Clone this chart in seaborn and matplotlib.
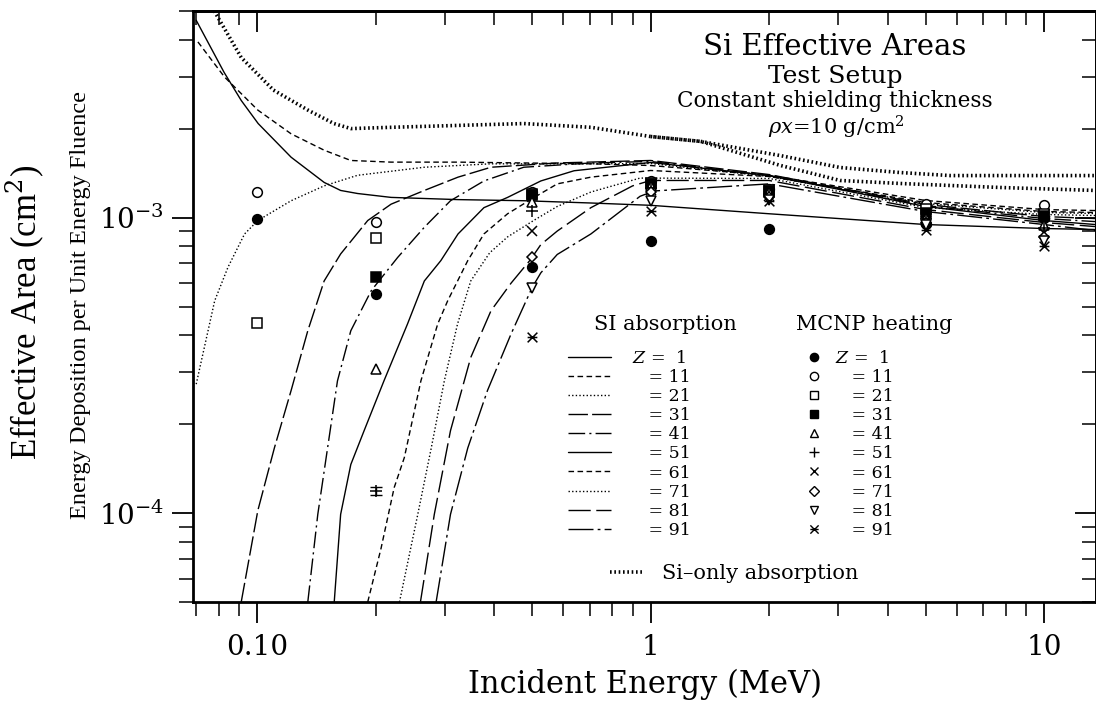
import numpy as np
import pandas as pd
import matplotlib
matplotlib.use("Agg")
import matplotlib.pyplot as plt
import seaborn as sns
from matplotlib.path import Path
from matplotlib.lines import Line2D
from matplotlib.ticker import LogLocator, NullFormatter

nan = np.nan

# ---------------- SI absorption curves ----------------
z1_E = [0.070, 0.0824, 0.0911, 0.1006, 0.122, 0.148, 0.163, 0.180, 0.219, 0.324, 0.476, 0.705, 1.0, 2.0, 5.0, 10.0, 13.5]
z1_A = [4.65e-3, 3.10e-3, 2.49e-3, 2.08e-3, 1.60e-3, 1.315e-3, 1.235e-3, 1.206e-3, 1.17e-3, 1.15e-3, 1.14e-3, 1.12e-3, 1.10e-3, 1.03e-3, 0.947e-3, 0.918e-3, 0.911e-3]

z11_E = [0.0707, 0.0826, 0.1004, 0.122, 0.148, 0.173, 0.219, 0.324, 0.705, 1.0, 2.0, 5.0, 10.0, 13.5]
z11_A = [3.93e-3, 2.99e-3, 2.31e-3, 1.92e-3, 1.69e-3, 1.56e-3, 1.54e-3, 1.54e-3, 1.52e-3, 1.50e-3, 1.39e-3, 1.142e-3, 1.064e-3, 1.056e-3]

z21_E = [0.070, 0.078, 0.0843, 0.0929, 0.1004, 0.122, 0.148, 0.180, 0.266, 0.393, 0.705, 1.0, 2.0, 5.0, 10.0, 13.5]
z21_A = [2.73e-4, 5.23e-4, 6.79e-4, 8.8e-4, 9.77e-4, 1.14e-3, 1.28e-3, 1.39e-3, 1.48e-3, 1.52e-3, 1.52e-3, 1.524e-3, 1.377e-3, 1.115e-3, 1.040e-3, 1.032e-3]

z31_E = [0.0911, 0.1004, 0.1106, 0.122, 0.1345, 0.148, 0.163, 0.191, 0.219, 0.266, 0.324, 0.393, 0.579, 1.0, 2.0, 5.0, 10.0, 13.5]
z31_A = [5.0e-5, 1.02e-4, 1.66e-4, 2.6e-4, 4.14e-4, 6.1e-4, 7.53e-4, 9.77e-4, 1.11e-3, 1.235e-3, 1.37e-3, 1.48e-3, 1.53e-3, 1.56e-3, 1.398e-3, 1.107e-3, 1.008e-3, 0.992e-3]

z41_E = [0.1345, 0.1426, 0.151, 0.160, 0.173, 0.195, 0.2276, 0.266, 0.31, 0.377, 0.476, 0.705, 1.0, 2.0, 5.0, 10.0, 13.5]
z41_A = [5.0e-5, 9.9e-5, 1.66e-4, 2.8e-4, 4.14e-4, 5.66e-4, 7.33e-4, 9.27e-4, 1.14e-3, 1.33e-3, 1.48e-3, 1.53e-3, 1.548e-3, 1.387e-3, 1.098e-3, 0.992e-3, 0.969e-3]

z51_E = [0.157, 0.163, 0.173, 0.187, 0.210, 0.241, 0.266, 0.293, 0.324, 0.377, 0.433, 0.526, 0.639, 1.0, 2.0, 5.0, 10.0, 13.5]
z51_A = [5.0e-5, 9.9e-5, 1.46e-4, 1.9e-4, 2.8e-4, 4.36e-4, 6.1e-4, 7.15e-4, 8.8e-4, 1.08e-3, 1.17e-3, 1.33e-3, 1.44e-3, 1.536e-3, 1.387e-3, 1.090e-3, 0.977e-3, 0.947e-3]

z61_E = [0.191, 0.2065, 0.223, 0.2366, 0.2607, 0.2876, 0.305, 0.343, 0.377, 0.433, 0.506, 0.579, 0.705, 1.0, 2.0, 5.0, 10.0, 13.5]
z61_A = [5.0e-5, 7.6e-5, 1.22e-4, 1.54e-4, 2.8e-4, 4.36e-4, 5.23e-4, 7.15e-4, 8.8e-4, 1.03e-3, 1.17e-3, 1.30e-3, 1.37e-3, 1.443e-3, 1.377e-3, 1.124e-3, 1.048e-3, 1.040e-3]

z71_E = [0.23, 0.256, 0.277, 0.299, 0.323, 0.349, 0.39, 0.433, 0.506, 0.579, 0.705, 0.94, 2.0, 5.0, 10.0, 13.5]
z71_A = [5.0e-5, 9.9e-5, 1.66e-4, 2.8e-4, 4.36e-4, 6.1e-4, 7.6e-4, 8.6e-4, 9.8e-4, 1.09e-3, 1.22e-3, 1.36e-3, 1.356e-3, 1.081e-3, 1.024e-3, 1.016e-3]

z81_E = [0.26, 0.282, 0.31, 0.349, 0.393, 0.442, 0.495, 0.526, 0.579, 0.705, 0.9, 1.0, 2.0, 5.0, 10.0, 13.5]
z81_A = [5.0e-5, 9.9e-5, 1.9e-4, 3.36e-4, 4.84e-4, 6.0e-4, 7.2e-4, 8.1e-4, 9.0e-4, 1.08e-3, 1.28e-3, 1.335e-3, 1.335e-3, 1.064e-3, 0.962e-3, 0.932e-3]

z91_E = [0.285, 0.31, 0.343, 0.385, 0.442, 0.5, 0.526, 0.579, 0.705, 0.94, 1.02, 2.0, 5.0, 10.0, 13.5]
z91_A = [5.0e-5, 9.9e-5, 1.66e-4, 2.6e-4, 4.04e-4, 5.8e-4, 6.5e-4, 7.5e-4, 8.8e-4, 1.18e-3, 1.23e-3, 1.30e-3, 1.048e-3, 0.947e-3, 0.904e-3]

# Si-only absorption (two heavy dotted curves)
si1_E = [0.0778, 0.0911, 0.110, 0.1346, 0.1567, 0.173, 0.219, 0.324, 0.476, 0.705, 1.0, 1.34, 2.14, 3.03, 4.31, 5.77, 13.5]
si1_A = [5.0e-3, 3.48e-3, 2.70e-3, 2.31e-3, 2.08e-3, 2.00e-3, 2.02e-3, 2.05e-3, 2.08e-3, 2.02e-3, 1.88e-3, 1.81e-3, 1.62e-3, 1.477e-3, 1.42e-3, 1.387e-3, 1.387e-3]
si2_E = [1.0, 1.34, 2.14, 3.03, 4.31, 7.73, 13.5]
si2_A = [1.88e-3, 1.81e-3, 1.50e-3, 1.335e-3, 1.304e-3, 1.264e-3, 1.235e-3]

# ---------------- MCNP heating points ----------------
mc_E = [0.1, 0.2, 0.5, 1.0, 2.0, 5.0, 10.0]
mc_z1 = [9.85e-4, 5.51e-4, 6.79e-4, 8.35e-4, 9.15e-4, 9.5e-4, 1.0e-3]
mc_z11 = [1.225e-3, 9.64e-4, 1.22e-3, 1.33e-3, 1.25e-3, 1.11e-3, 1.10e-3]
mc_z21 = [4.41e-4, 8.51e-4, 1.20e-3, 1.31e-3, 1.235e-3, 1.07e-3, 1.03e-3]
mc_z31 = [nan, 6.28e-4, 1.19e-3, 1.30e-3, 1.23e-3, 1.04e-3, 1.01e-3]
mc_z41 = [nan, 3.07e-4, 1.13e-3, 1.28e-3, 1.22e-3, 1.0e-3, 9.4e-4]
mc_z51 = [nan, 1.19e-4, 1.05e-3, 1.26e-3, 1.20e-3, 9.9e-4, 9.2e-4]
mc_z61 = [nan, nan, 9.0e-4, 1.24e-3, 1.18e-3, 9.7e-4, 8.9e-4]
mc_z71 = [nan, nan, 7.33e-4, 1.22e-3, 1.17e-3, 9.6e-4, 8.6e-4]
mc_z81 = [nan, nan, 5.78e-4, 1.14e-3, 1.15e-3, 9.4e-4, 8.3e-4]
mc_z91 = [nan, nan, 3.93e-4, 1.055e-3, 1.14e-3, 9.1e-4, 8.0e-4]
err_E = [0.2]
err_A = [1.19e-4]
err_lo = [3.5e-6]
err_hi = [3.5e-6]

z_values = [1, 11, 21, 31, 41, 51, 61, 71, 81, 91]
x_ticks = [0.1, 1, 10]
x_ticklabels = ["0.10", "1", "10"]
y_ticks = [1e-4, 1e-3]
y_ticklabels = [r"$10^{-4}$", r"$10^{-3}$"]

# ---------------- styling ----------------
sns.set_theme(style="ticks")
plt.rcParams["font.family"] = ["DejaVu Serif"]
plt.rcParams["mathtext.fontset"] = "dejavuserif"
for key in ["text.color", "axes.labelcolor", "xtick.color", "ytick.color", "axes.edgecolor"]:
    plt.rcParams[key] = "black"

curves_E = [z1_E, z11_E, z21_E, z31_E, z41_E, z51_E, z61_E, z71_E, z81_E, z91_E]
curves_A = [z1_A, z11_A, z21_A, z31_A, z41_A, z51_A, z61_A, z71_A, z81_A, z91_A]
line_styles = ["-", (0, (4, 2.5)), (0, (1, 1.6)), (0, (14, 3)), (0, (12, 3, 1.5, 3)),
               "-", (0, (4, 2.5)), (0, (1, 1.6)), (0, (16, 4)), (0, (18, 3, 2, 3))]

z91_marker = Path([(-1, -1), (1, 1), (-1, 1), (1, -1), (-1, 0), (1, 0)],
                  [Path.MOVETO, Path.LINETO, Path.MOVETO, Path.LINETO, Path.MOVETO, Path.LINETO])
mk_series = [mc_z1, mc_z11, mc_z21, mc_z31, mc_z41, mc_z51, mc_z61, mc_z71, mc_z81, mc_z91]
mk_style = [("o", "black", 7), ("o", "white", 7), ("s", "white", 6.5), ("s", "black", 6.5),
            ("^", "white", 6.5), ("+", "black", 8), ("x", "black", 6.5), ("D", "white", 5.5),
            ("v", "white", 6.5), (z91_marker, "none", 7)]

fig = plt.figure(figsize=(10.96, 7.05), dpi=100)
ax = fig.add_axes([193 / 1096, 1 - 602 / 705, (1096 - 193) / 1096, (602 - 11) / 705])
ax.set_xscale("log")
ax.set_yscale("log")

for E, A, ls in zip(curves_E, curves_A, line_styles):
    sns.lineplot(x=E, y=A, ax=ax, color="black", lw=1.0, linestyle=ls, sort=True,
                 estimator=None)

for E, A in [(si1_E, si1_A), (si2_E, si2_A)]:
    sns.lineplot(x=E, y=A, ax=ax, color="black", lw=2.6, linestyle=(0, (0.45, 0.75)),
                 estimator=None)

for vals, (m, fc, ms) in zip(mk_series, mk_style):
    ax.plot(mc_E, vals, linestyle="none", marker=m, markersize=ms, markerfacecolor=fc,
            markeredgecolor="black", markeredgewidth=1.1, color="black", zorder=5)
ax.errorbar(err_E, err_A, yerr=[err_lo, err_hi], fmt="none", ecolor="black",
            elinewidth=1.0, capsize=4, capthick=1.0, zorder=5)

ax.set_xlim(0.0687, 13.55)
ax.set_ylim(5e-5, 5e-3)

# ticks
ax.xaxis.set_major_locator(plt.FixedLocator(x_ticks))
ax.set_xticklabels(x_ticklabels)
ax.xaxis.set_minor_locator(LogLocator(base=10, subs=np.arange(2, 10)))
ax.xaxis.set_minor_formatter(NullFormatter())
ax.yaxis.set_major_locator(plt.FixedLocator(y_ticks))
ax.set_yticklabels(y_ticklabels)
ax.yaxis.set_minor_locator(LogLocator(base=10, subs=np.arange(2, 10)))
ax.yaxis.set_minor_formatter(NullFormatter())
ax.tick_params(axis="both", which="major", direction="out", length=15, width=1.3,
               labelsize=20, colors="black", pad=6)
ax.tick_params(axis="both", which="minor", direction="out", length=10, width=1.1)
ax.tick_params(axis="x", which="major", pad=8)

for sp in ax.spines.values():
    sp.set_linewidth(2.0)
    sp.set_color("black")

secx = ax.secondary_xaxis("top")
secx.xaxis.set_major_locator(plt.FixedLocator(x_ticks))
secx.xaxis.set_minor_locator(LogLocator(base=10, subs=np.arange(2, 10)))
secx.xaxis.set_major_formatter(NullFormatter())
secx.xaxis.set_minor_formatter(NullFormatter())
secx.tick_params(which="major", direction="in", length=15, width=1.3)
secx.tick_params(which="minor", direction="in", length=10, width=1.1)
secx.spines["top"].set_linewidth(2.0)

secy = ax.secondary_yaxis("right")
secy.yaxis.set_major_locator(plt.FixedLocator(y_ticks))
secy.yaxis.set_minor_locator(LogLocator(base=10, subs=np.arange(2, 10)))
secy.yaxis.set_major_formatter(NullFormatter())
secy.yaxis.set_minor_formatter(NullFormatter())
secy.tick_params(which="major", direction="in", length=15, width=1.3)
secy.tick_params(which="minor", direction="in", length=10, width=1.1)

ax.set_xlabel("Incident Energy (MeV)", fontsize=22, labelpad=6)
ax.set_ylabel("Effective Area (cm$^2$)", fontsize=25, family="Liberation Serif")
ax.yaxis.set_label_coords((46 - 193) / 903, (602 - 312) / 591)
ax.text((81 - 193) / 903, (602 - 305) / 591, "Energy Deposition per Unit Energy Fluence",
        transform=ax.transAxes, rotation=90, ha="center", va="center", fontsize=17.5,
        family="Liberation Serif")

# titles inside plot
def fx(px):
    return px / 1096


def fy(py):
    return 1 - py / 705


fig.text(fx(835), fy(47), "Si Effective Areas", ha="center", va="center", fontsize=21)
fig.text(fx(835), fy(76), "Test Setup", ha="center", va="center", fontsize=18)
fig.text(fx(835), fy(101), "Constant shielding thickness", ha="center", va="center", fontsize=15.5)
fig.text(fx(836), fy(127), r"$\rho x$=10 g/cm$^2$", ha="center", va="center", fontsize=15)

# legends
fig.text(fx(665), fy(325), "SI absorption", ha="center", va="center", fontsize=15)
fig.text(fx(874), fy(325), "MCNP heating", ha="center", va="center", fontsize=15)

labels = []
for i, z in enumerate(z_values):
    labels.append(("$Z$ =  %d" % z) if i == 0 else ("   = %d" % z))
line_handles = [Line2D([], [], color="black", lw=1.0, linestyle=ls) for ls in line_styles]
leg1 = ax.legend(line_handles, labels, loc="upper left", bbox_to_anchor=(fx(568), fy(350)),
                 bbox_transform=fig.transFigure, frameon=False, fontsize=12.5,
                 handlelength=2.5, handletextpad=1.2, labelspacing=0.12,
                 borderpad=0, borderaxespad=0)
ax.add_artist(leg1)

mk_handles = [Line2D([], [], linestyle="none", marker=m, markersize=ms * 0.85,
                     markerfacecolor=fc, markeredgecolor="black", markeredgewidth=1.0)
              for (m, fc, ms) in mk_style]
leg2 = ax.legend(mk_handles, labels, loc="upper left", bbox_to_anchor=(fx(805), fy(350)),
                 bbox_transform=fig.transFigure, frameon=False, fontsize=12.5,
                 handlelength=1.0, handletextpad=0.7, labelspacing=0.12,
                 borderpad=0, borderaxespad=0)
ax.add_artist(leg2)

si_handle = [Line2D([], [], color="black", lw=2.6, linestyle=(0, (0.45, 0.75)))]
leg3 = ax.legend(si_handle, ["Si\u2013only absorption"], loc="upper left",
                 bbox_to_anchor=(fx(610), fy(564)), bbox_transform=fig.transFigure,
                 frameon=False, fontsize=15, handlelength=1.6, handletextpad=0.9,
                 borderpad=0, borderaxespad=0)

fig.savefig("out.png", dpi=100)
